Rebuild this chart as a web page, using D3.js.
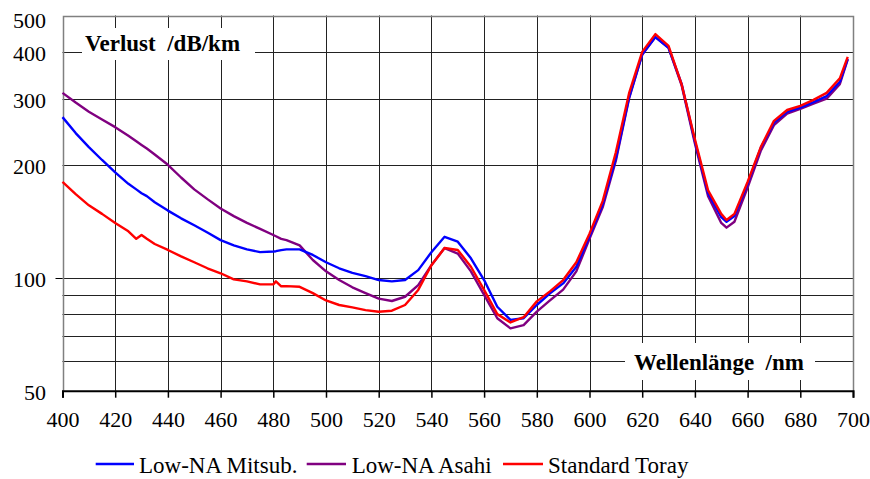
<!DOCTYPE html>
<html>
<head>
<meta charset="utf-8">
<script src="https://cdn.jsdelivr.net/npm/d3@7"></script>
<style>
  html, body { margin: 0; padding: 0; background: #fff; }
  svg text { font-family: 'Liberation Serif', 'Times New Roman', Times, 'DejaVu Serif', serif !important; fill: #000; white-space: pre; }
</style>
</head>
<body>
<svg id="chart" width="870" height="479"></svg>
<script>
// ---- data ----
const wavelengths = [400,405,410,415,420,425,428,430,432,435,440,445,450,455,460,465,470,475,480,481,483,485,490,495,500,505,510,515,520,525,530,535,540,545,550,555,560,565,570,575,580,585,590,595,600,605,610,615,620,625,630,635,640,645,650,652,655,660,665,670,675,680,685,690,695,698];

const mitsubLoss = [268,243,223,206,191,178,172,168,165,159,151,144,138,132,126,122,119,117,117.5,117.7,118.5,119,119,115,110,106,103,101,98.6,97.8,98.6,104.8,117,128.6,124.8,112.7,98.6,83.7,77.2,78,84.6,90.9,96.6,107,129,157,208,302,394,438,410,328,231,168,145,141,146,178,222,259,277,284,294,305,333,383];

const asahiLoss = [311,293,277,264,252,239,231,226,221,213,200,185,172,162,153,146,140,135,130,129,127,126,122,111.5,104,98.6,94.3,91,88,86.7,89,95.6,108,120,116,104,90,78,73.3,74.8,81.2,87,93,104,127,154,205,300,393,438,410,325,228,165,140,136,141,174,218,255,274,282,291,300,328,382];

const torayLoss = [180,167,156,148,140,133,127,130,127,123,118.6,114,110,106,102.8,99,97.8,96,96,97.8,94.9,95,94.6,91,87,84.6,83.4,82,81.2,81.7,84.6,92.8,108,120,118.6,107,92.8,80,76,78.5,86.5,92,98.6,110,131,160,216,310,400,446,415,327,234,171,148,142.6,148,180,223,262,280,287,298,311,340,388];

const seriesNames = ["Low-NA Mitsub.", "Low-NA Asahi", "Standard Toray"];
const seriesColors = ["#0000ff", "#800080", "#ff0000"];

const xTicks = [400,420,440,460,480,500,520,540,560,580,600,620,640,660,680,700];
const yGridValues = [60,70,80,90,100,200,300,400];
const yTickLabels = [50,100,200,300,400,500];

const yAxisTitle = "Verlust  /dB/km";
const xAxisTitle = "Wellenlänge  /nm";

// ---- layout ----
const serifFont = "'Liberation Serif', 'Times New Roman', Times, 'DejaVu Serif', serif";
const svg = d3.select("#chart").attr("font-family", serifFont);
const plotLeft = 62.5, plotRight = 853, plotTop = 15.5, plotBottom = 390.7;

const x = d3.scaleLinear().domain([400, 700]).range([plotLeft, plotRight]);
const y = d3.scaleLog().domain([50, 500]).range([plotBottom, plotTop]);
const snap = v => Math.round(v) + 0.5;

// grid: horizontal
svg.append("g").selectAll("line").data(yGridValues).join("line")
  .attr("x1", plotLeft).attr("x2", plotRight)
  .attr("y1", d => snap(y(d))).attr("y2", d => snap(y(d)))
  .attr("stroke", "#222").attr("stroke-width", 1);

// grid: vertical (interior)
svg.append("g").selectAll("line").data(xTicks.slice(1, -1)).join("line")
  .attr("x1", d => snap(x(d))).attr("x2", d => snap(x(d)))
  .attr("y1", plotTop).attr("y2", plotBottom)
  .attr("stroke", "#222").attr("stroke-width", 1);

// border (top, left, right) grey
svg.append("path")
  .attr("d", `M${snap(x(400))},${plotBottom} V${snap(y(500))} H${snap(x(700))} V${plotBottom}`)
  .attr("fill", "none").attr("stroke", "#808080").attr("stroke-width", 1.5);

// tick at 100 on the left
svg.append("line")
  .attr("x1", plotLeft - 7).attr("x2", plotLeft)
  .attr("y1", snap(y(100))).attr("y2", snap(y(100)))
  .attr("stroke", "#000").attr("stroke-width", 1);

// title boxes (white backgrounds interrupting the grid)
svg.append("rect").attr("x", 82).attr("y", 28).attr("width", 173).attr("height", 32).attr("fill", "#fff");
svg.append("text").attr("x", 85).attr("y", 50.7).attr("xml:space", "preserve")
  .attr("font-family", serifFont)
  .attr("font-size", 23).attr("font-weight", "bold").text(yAxisTitle);

svg.append("rect").attr("x", 625).attr("y", 343).attr("width", 190).attr("height", 37).attr("fill", "#fff");
svg.append("text").attr("x", 634).attr("y", 370).attr("xml:space", "preserve")
  .attr("font-family", serifFont)
  .attr("font-size", 23).attr("font-weight", "bold").text(xAxisTitle);

// series
const lineGen = d3.line()
  .x((d, i) => x(wavelengths[i]))
  .y(d => y(d));

const seriesData = [mitsubLoss, asahiLoss, torayLoss];
const drawOrder = [1, 0, 2];
drawOrder.forEach(k => {
  svg.append("path")
    .datum(seriesData[k])
    .attr("d", lineGen)
    .attr("fill", "none")
    .attr("stroke", seriesColors[k])
    .attr("stroke-width", 2.4)
    .attr("stroke-linejoin", "round");
});

// bottom axis
const xAxis = d3.axisBottom(x).tickValues(xTicks).tickSize(7).tickFormat(d3.format("d"));
const gx = svg.append("g").attr("transform", `translate(0,${plotBottom})`).call(xAxis)
  .attr("font-family", serifFont).attr("font-size", 22);
gx.select(".domain").attr("stroke", "#000").attr("stroke-width", 2);
gx.selectAll(".tick line").attr("stroke", "#000").attr("stroke-width", 1.5);
gx.selectAll(".tick text")
  .attr("font-family", serifFont)
  .attr("font-size", 22).attr("fill", "#000")
  .attr("dy", null).attr("y", 36.5);

// y labels
svg.append("g").selectAll("text").data(yTickLabels).join("text")
  .attr("x", 46).attr("text-anchor", "end")
  .attr("y", d => Math.max(y(d) + 9, 28))
  .attr("font-family", serifFont)
  .attr("font-size", 22)
  .text(d => d);

// legend
const legendLines = [[95.7, 134], [306.7, 346], [503, 543]];
const legendTextX = [139, 351.7, 548];
seriesNames.forEach((name, k) => {
  svg.append("line")
    .attr("x1", legendLines[k][0]).attr("x2", legendLines[k][1])
    .attr("y1", 464).attr("y2", 464)
    .attr("stroke", seriesColors[k]).attr("stroke-width", 2.4);
  svg.append("text").attr("x", legendTextX[k]).attr("y", 473.3)
    .attr("font-family", serifFont)
    .attr("font-size", 23).text(name);
});
</script>
</body>
</html>
